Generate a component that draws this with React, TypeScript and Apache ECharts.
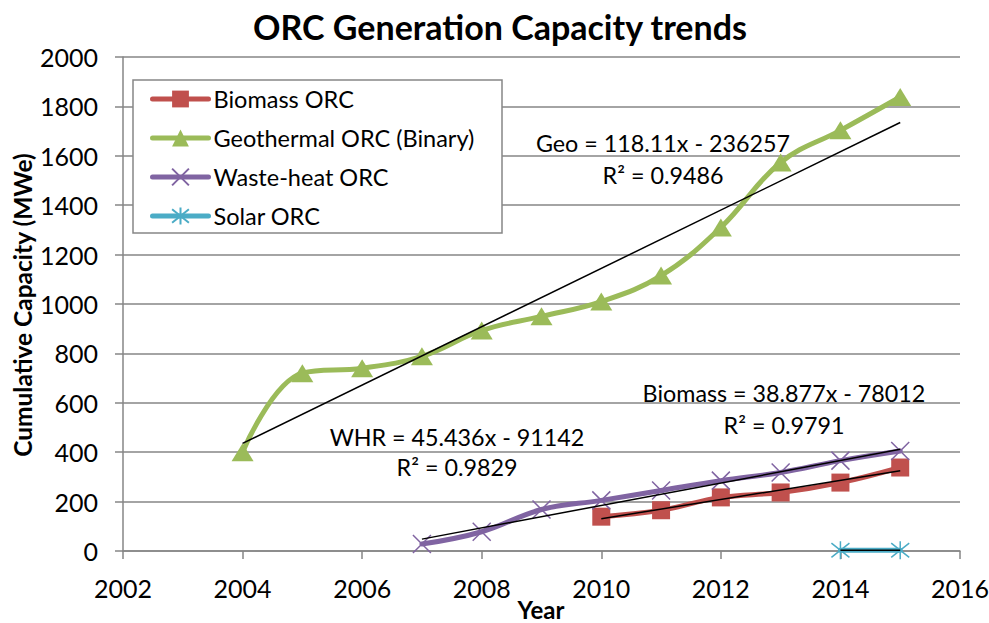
import React, { useEffect, useRef } from "react";
import * as echarts from "echarts";

const FONT = "Lato";

// ---- data ----
const geoYears = [2004, 2005, 2006, 2007, 2008, 2009, 2010, 2011, 2012, 2013, 2014, 2015];
const geoValues = [400, 720, 740, 788, 893, 950, 1010, 1115, 1310, 1573, 1703, 1838];
const whrYears = [2007, 2008, 2009, 2010, 2011, 2012, 2013, 2014, 2015];
const whrValues = [28, 78, 168, 205, 245, 285, 318, 366, 405];
const bioYears = [2010, 2011, 2012, 2013, 2014, 2015];
const bioValues = [139, 165, 217, 237, 277, 338];
const solarYears = [2014, 2015];
const solarValues = [3, 3];

// trendline coefficients as printed on the chart (slope, intercept)
const geoFit = [118.11, -236257];
const whrFit = [45.436, -91142];
const bioFit = [38.877, -78012];

const seriesNames = ["Biomass ORC", "Geothermal ORC (Binary)", "Waste-heat ORC", "Solar ORC"];
const xTicks = { min: 2002, max: 2016, interval: 2 };
const yTicks = { min: 0, max: 2000, interval: 200 };
const xAxisName = "Year";
const yAxisName = "Cumulative Capacity (MWe)";

const annotations = [
  { text: "Geo = 118.11x - 236257", x: 663, y: 143 },
  { text: "R² = 0.9486", x: 663, y: 175 },
  { text: "Biomass = 38.877x - 78012", x: 784, y: 393 },
  { text: "R² = 0.9791", x: 784, y: 425 },
  { text: "WHR = 45.436x - 91142", x: 457, y: 437 },
  { text: "R² = 0.9829", x: 457, y: 467 },
];

const pairs = (xs: number[], ys: number[]) => xs.map((x, i) => [x, ys[i]]);
const fitLine = (xs: number[], fit: number[]) => {
  const a = xs[0];
  const b = xs[xs.length - 1];
  return [
    [a, fit[0] * a + fit[1]],
    [b, fit[0] * b + fit[1]],
  ];
};

const C_BIO = "#C0504D";
const C_GEO = "#9BBB59";
const C_WHR = "#8064A2";
const C_SOL = "#4BACC6";
const GRID = "#868686";

const X_SYMBOL = "path://M0,0L10,10M10,0L0,10";
const STAR_SYMBOL = "path://M0,1L10,9M10,1L0,9M5,0L5,10";

export default function App() {
  const ref = useRef<HTMLDivElement>(null);
  useEffect(() => {
    if (!ref.current) return;
    const chart = echarts.init(ref.current, undefined, { renderer: "svg" });
    const dataLine = (name: string, data: number[][], color: string, symbol: string, size: any, stroke: boolean) => ({
      name,
      type: "line",
      data,
      smooth: 0.4,
      symbol,
      symbolSize: size,
      showAllSymbol: true,
      lineStyle: { color, width: 5, cap: "round", join: "round" },
      itemStyle: stroke
        ? { color, borderColor: color, borderWidth: 1.5 }
        : { color, borderWidth: 0 },
      z: 2,
    });
    const trend = (data: number[][]) => ({
      type: "line",
      data,
      symbol: "none",
      silent: true,
      lineStyle: { color: "#000", width: 1.5 },
      z: 3,
    });
    chart.setOption({
      animation: false,
      textStyle: { fontFamily: FONT },
      grid: { left: 123, top: 57, width: 837, height: 494, outerBoundsMode: "none", containLabel: false },
      legend: {
        data: seriesNames,
        orient: "vertical",
        left: 150,
        top: 87,
        padding: 0,
        itemWidth: 56,
        itemHeight: 21,
        itemGap: 15,
        z: 8,
        selectedMode: false,
        lineStyle: { width: 5, cap: "round" },
        textStyle: { fontFamily: FONT, fontSize: 23.5, color: "#000" },
      },
      xAxis: {
        type: "value",
        min: xTicks.min,
        max: xTicks.max,
        interval: xTicks.interval,
        axisLine: { lineStyle: { color: GRID, width: 1.5 } },
        axisTick: { show: true, length: 8, lineStyle: { color: GRID, width: 1.5 } },
        axisLabel: { fontFamily: FONT, fontSize: 25, color: "#000", margin: 24, formatter: (v: number) => String(v) },
        splitLine: { show: false },
      },
      yAxis: {
        type: "value",
        min: yTicks.min,
        max: yTicks.max,
        interval: yTicks.interval,
        axisLine: { show: true, lineStyle: { color: GRID, width: 1.5 } },
        axisTick: { show: true, length: 8, lineStyle: { color: GRID, width: 1.5 } },
        axisLabel: { fontFamily: FONT, fontSize: 25, color: "#000", margin: 25, formatter: (v: number) => String(v) },
        splitLine: { show: true, lineStyle: { color: GRID, width: 1.5 } },
      },
      graphic: [
        {
          type: "rect",
          shape: { x: 133, y: 80, width: 369, height: 153 },
          style: { fill: "#fff", stroke: GRID, lineWidth: 1.5 },
          z: 4,
          silent: true,
        },
        {
          type: "text",
          x: 500,
          y: 26,
          style: {
            text: "ORC Generation Capacity trends",
            fontFamily: FONT,
            fontSize: 34,
            fontWeight: "bold",
            fill: "#000",
            textAlign: "center",
            textVerticalAlign: "middle",
          },
        },
        {
          type: "text",
          x: 541,
          y: 609,
          style: {
            text: xAxisName,
            fontFamily: FONT,
            fontSize: 24,
            fontWeight: "bold",
            fill: "#000",
            textAlign: "center",
            textVerticalAlign: "middle",
          },
        },
        {
          type: "text",
          x: 22,
          y: 305,
          rotation: Math.PI / 2,
          style: {
            text: yAxisName,
            fontFamily: FONT,
            fontSize: 24.5,
            fontWeight: "bold",
            fill: "#000",
            textAlign: "center",
            textVerticalAlign: "middle",
          },
        },
        ...annotations.map((a) => ({
          type: "text",
          x: a.x,
          y: a.y,
          z: 10,
          style: {
            text: a.text,
            fontFamily: FONT,
            fontSize: 23.3,
            fill: "#000",
            textAlign: "center",
            textVerticalAlign: "middle",
          },
        })),
      ],
      series: [
        dataLine(seriesNames[0], pairs(bioYears, bioValues), C_BIO, "rect", 18, false),
        dataLine(seriesNames[1], pairs(geoYears, geoValues), C_GEO, "triangle", [22, 18], false),
        dataLine(seriesNames[2], pairs(whrYears, whrValues), C_WHR, X_SYMBOL, 18, true),
        dataLine(seriesNames[3], pairs(solarYears, solarValues), C_SOL, STAR_SYMBOL, 18, true),
        trend(fitLine(bioYears, bioFit)),
        trend(fitLine(geoYears, geoFit)),
        trend(fitLine(whrYears, whrFit)),
        trend(pairs(solarYears, solarValues)),
      ],
    });
    return () => chart.dispose();
  }, []);
  return (
    <div
      ref={ref}
      style={{ position: "fixed", left: 0, top: 0, width: 989, height: 623, background: "#fff" }}
    />
  );
}
